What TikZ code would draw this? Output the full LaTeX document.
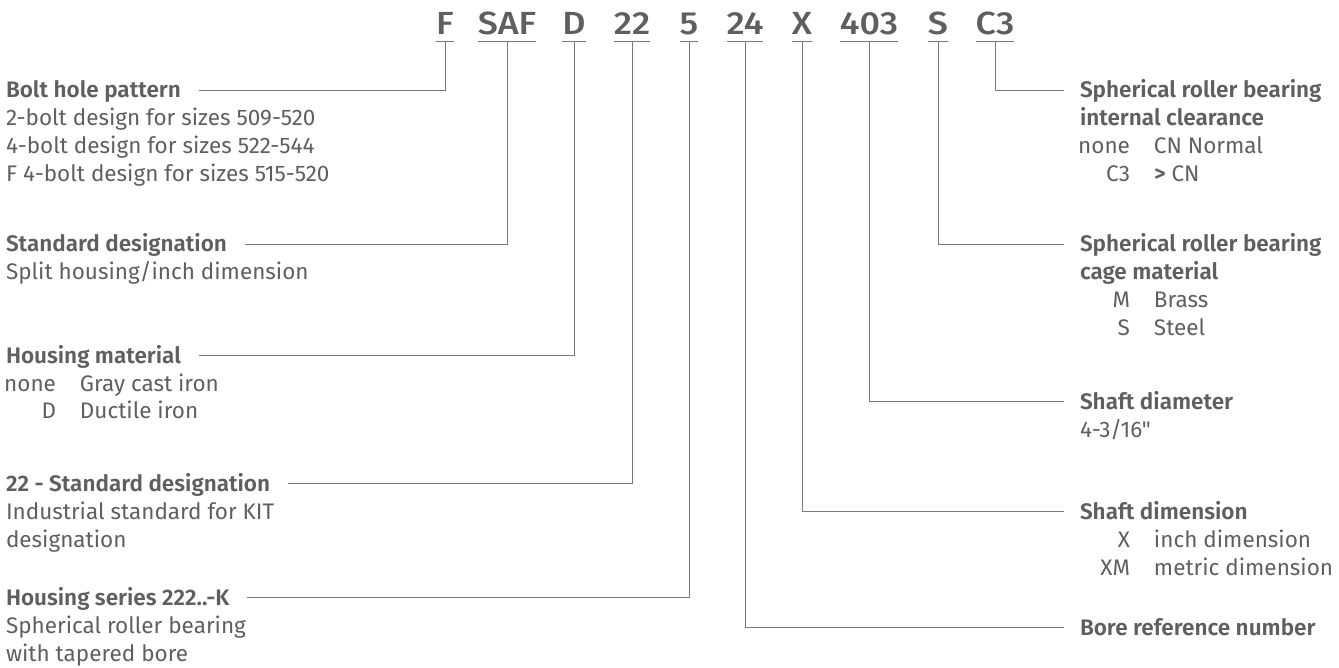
\documentclass[tikz,border=0pt]{standalone}
\usepackage{fontspec}
\setmainfont{Fira Sans}[BoldFont={Fira Sans SemiBold}]
\newfontfamily\codefont{Fira Sans Medium}[FakeStretch=1.12]
\newfontfamily\rawfont{Fira Sans}[Ligatures=TeXOff]
\definecolor{txt}{HTML}{5F5F5F}
\definecolor{ln}{HTML}{7A7A7A}
\newcommand\bodysize{\fontsize{22.5}{28}\selectfont}
\newcommand\kv[2]{\makebox[50pt][r]{#1}\hspace{24pt}#2}
\newcommand\stack[1]{\vtop{\baselineskip=28pt\lineskiplimit=-100pt\relax #1}}
\begin{document}
\begin{tikzpicture}[x=1pt,y=-1pt,
  every node/.style={inner sep=0pt,outer sep=0pt,text=txt},
  code/.style={font=\codefont\fontsize{32}{32}\selectfont,anchor=base,text height=22pt,text depth=7pt},
  ltitle/.style={font=\bodysize\bfseries,anchor=base west,text height=15pt,text depth=0pt},
  body/.style={font=\bodysize,anchor=base west},
  ul/.style={draw=ln,line width=1pt},
  conn/.style={draw=ln,line width=1pt}]
\useasboundingbox (0,0) rectangle (1339,668);
% codes
\node[code] (cF)   at (445,35) {F};
\node[code] (cSAF) at (507,35) {SAF};
\node[code] (cD)   at (574,35) {D};
\node[code] (c22)  at (632,35) {22};
\node[code] (c5)   at (689,35) {5};
\node[code] (c24)  at (745,35) {24};
\node[code] (cX)   at (802,35) {X};
\node[code] (c403) at (869,35) {403};
\node[code] (cS)   at (938,35) {S};
\node[code] (cC3)  at (995,35) {C3};
\foreach \c in {cF,cSAF,cD,c22,c5,c24,cX,c403,cS,cC3}
  \draw[ul] (\c.south west) -- (\c.south east);
% left titles and bodies
\node[ltitle] (tBolt) at (6,98) {Bolt hole pattern};
\node[body] (bBolt) at (6,126) {\stack{\hbox{2-bolt design for sizes 509-520}\hbox{4-bolt design for sizes 522-544}\hbox{F 4-bolt design for sizes 515-520}}};
\node[ltitle] (tStd) at (6,252) {Standard designation};
\node[body] (bStd) at (6,280) {\stack{\hbox{Split housing/inch dimension}}};
\node[ltitle] (tMat) at (6,363) {Housing material};
\node[body] (bMat) at (6,391) {\stack{\hbox{\kv{none}{Gray cast iron}}\hbox{\kv{D}{Ductile iron}}}};
\node[ltitle] (t22) at (6,491) {22 - Standard designation};
\node[body] (b22) at (6,519) {\stack{\hbox{Industrial standard for KIT}\hbox{designation}}};
\node[ltitle] (tSer) at (6,605) {Housing series 222..-K};
\node[body] (bSer) at (6,633) {\stack{\hbox{Spherical roller bearing}\hbox{with tapered bore}}};
% right titles and bodies
\node[ltitle] (tClr) at (1080,98) {Spherical roller bearing};
\node[body] (bClr) at (1080,126) {\stack{\hbox{\bfseries internal clearance}\hbox{\kv{none}{CN Normal}}\hbox{\kv{C3}{\textbf{>} CN}}}};
\node[ltitle] (tCage) at (1080,252) {Spherical roller bearing};
\node[body] (bCage) at (1080,280) {\stack{\hbox{\bfseries cage material}\hbox{\kv{M}{Brass}}\hbox{\kv{S}{Steel}}}};
\node[ltitle] (tDia) at (1080,409) {Shaft diameter};
\node[body] (bDia) at (1080,437) {\stack{\hbox{\rawfont 4-3/16"}}};
\node[ltitle] (tDim) at (1080,519) {Shaft dimension};
\node[body] (bDim) at (1080,547) {\stack{\hbox{\kv{X}{inch dimension}}\hbox{\kv{XM}{metric dimension}}}};
\node[ltitle] (tBore) at (1080,635) {Bore reference number};
% connectors
\draw[conn] (cF.south)   |- ([xshift=18pt]tBolt.east);
\draw[conn] (cSAF.south) |- ([xshift=18pt]tStd.east);
\draw[conn] (cD.south)   |- ([xshift=18pt]tMat.east);
\draw[conn] (c22.south)  |- ([xshift=18pt]t22.east);
\draw[conn] (c5.south)   |- ([xshift=18pt]tSer.east);
\draw[conn] (c24.south)  |- ([xshift=-16pt]tBore.west);
\draw[conn] (cX.south)   |- ([xshift=-16pt]tDim.west);
\draw[conn] (c403.south) |- ([xshift=-16pt]tDia.west);
\draw[conn] (cS.south)   |- ([xshift=-16pt]tCage.west);
\draw[conn] (cC3.south)  |- ([xshift=-16pt]tClr.west);
\end{tikzpicture}
\end{document}
